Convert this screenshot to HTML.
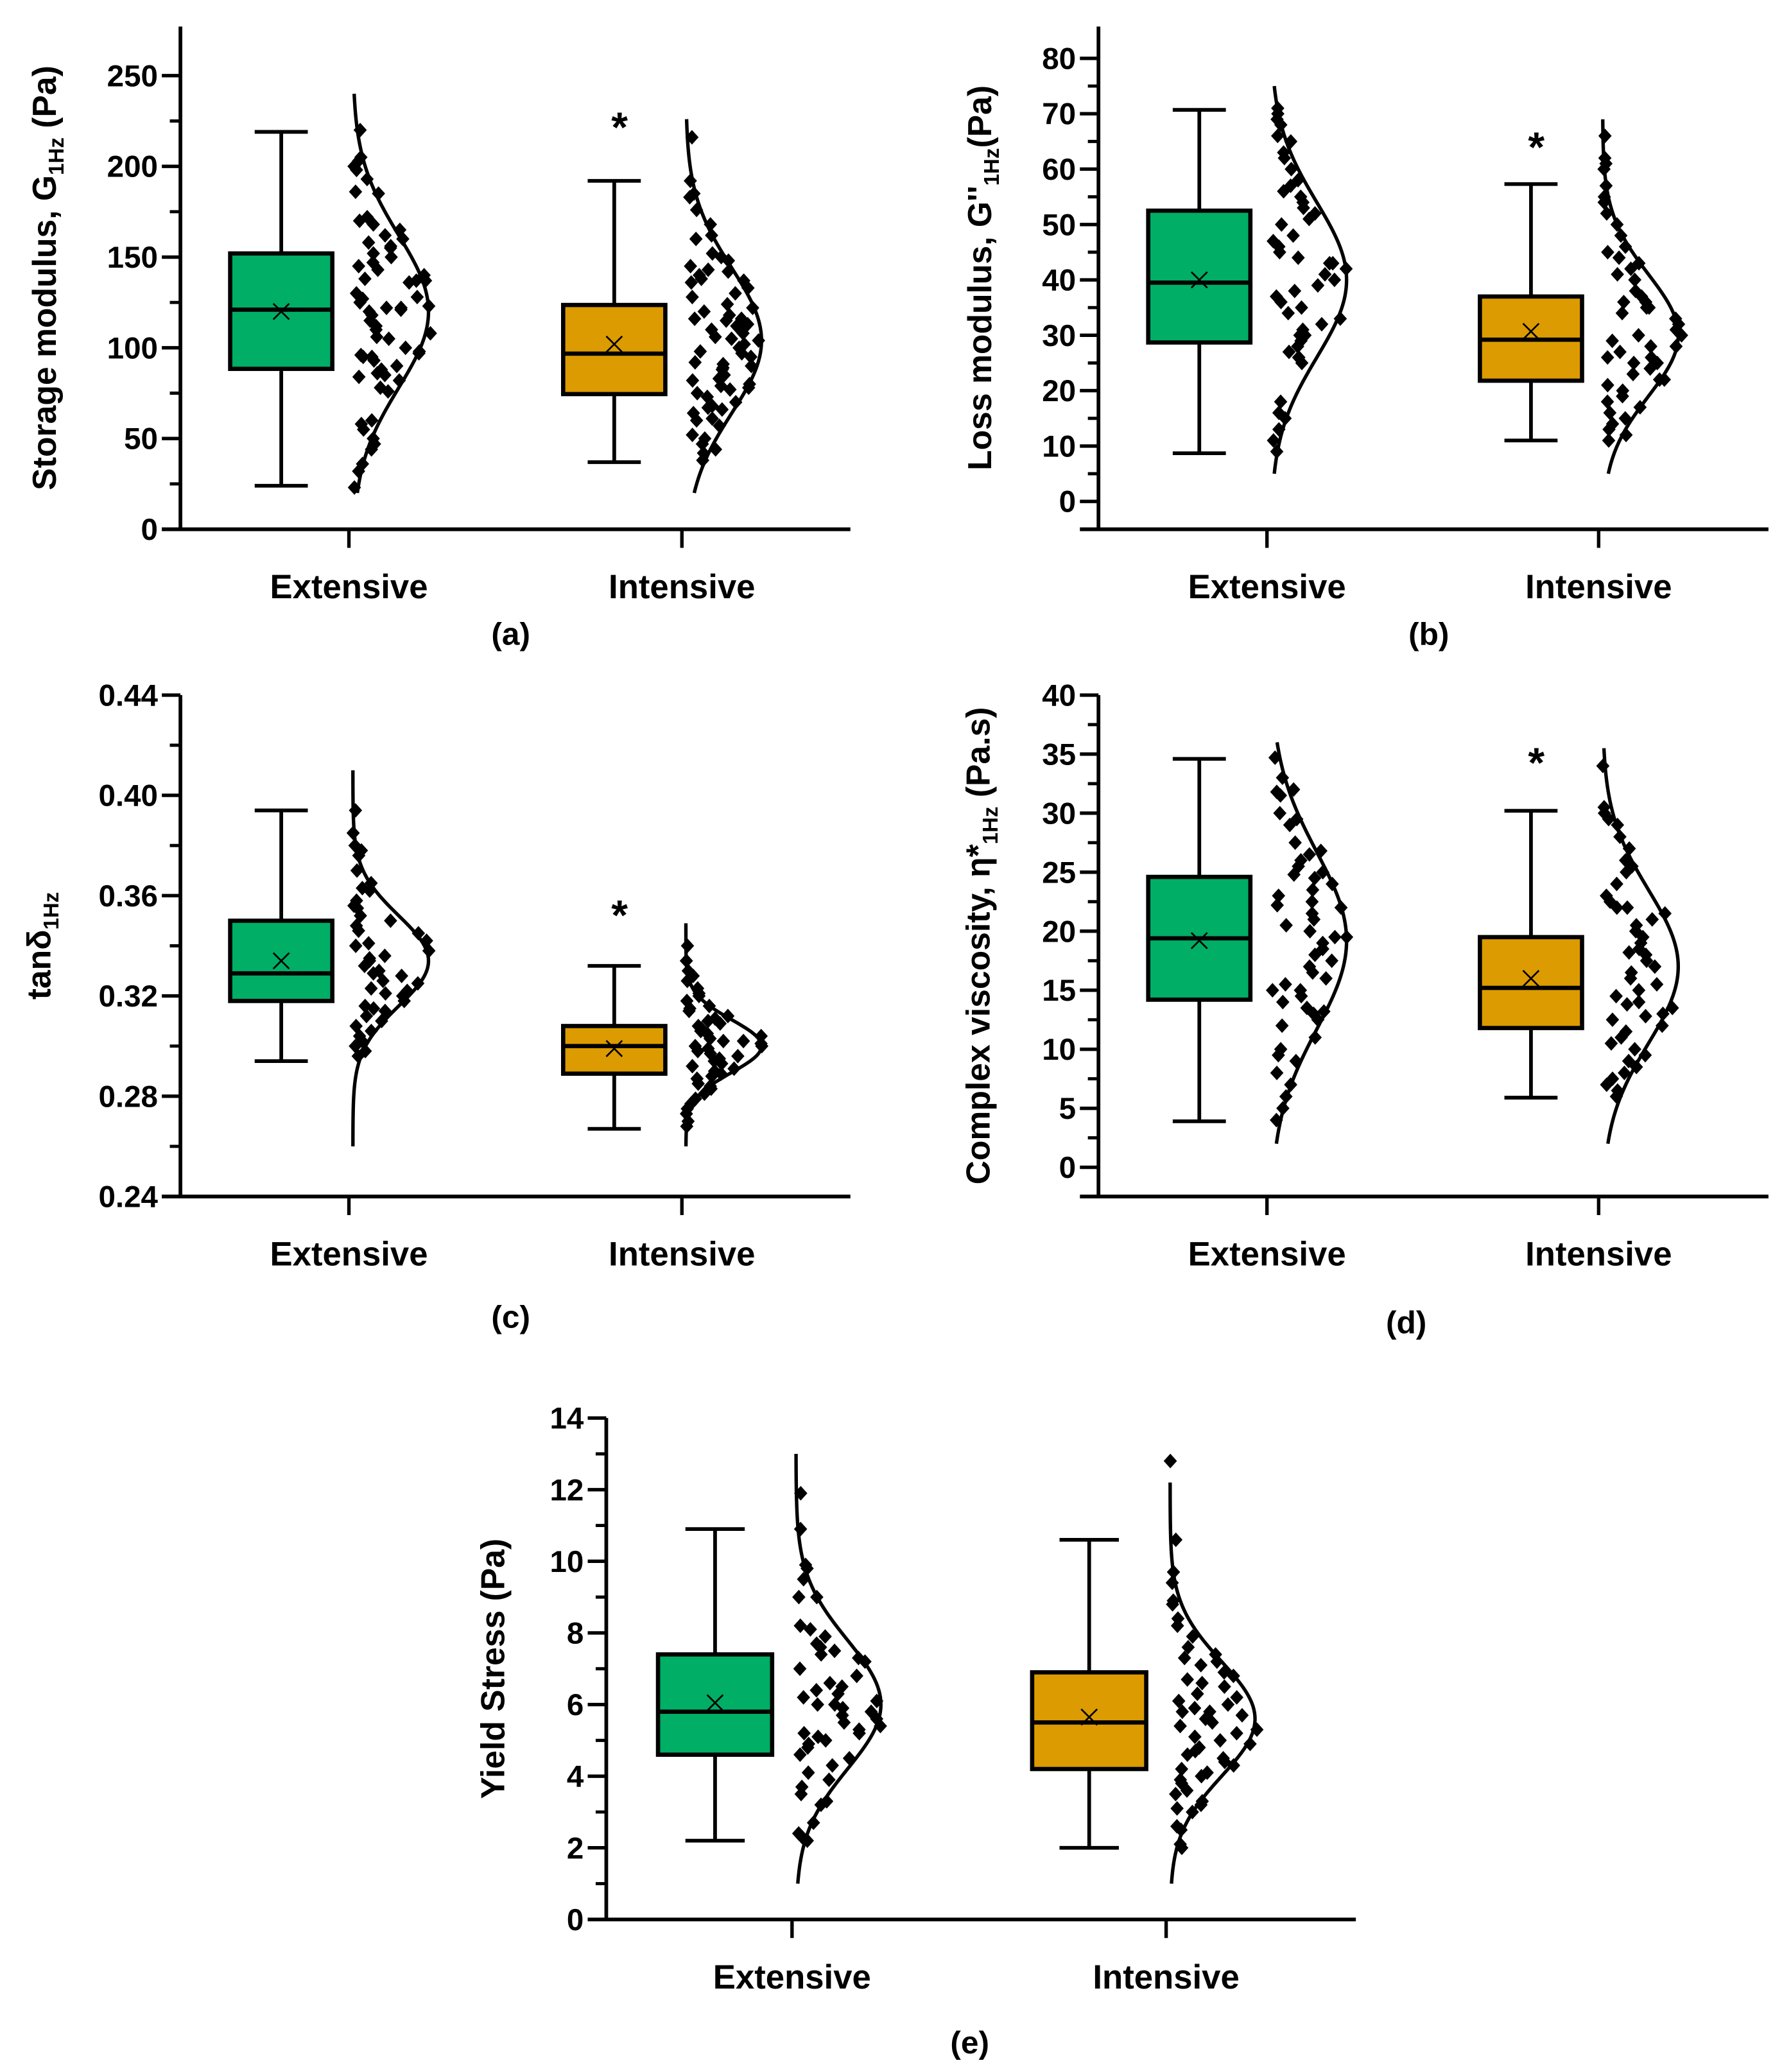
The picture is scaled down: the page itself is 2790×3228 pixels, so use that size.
<!DOCTYPE html>
<html><head><meta charset="utf-8"><style>
html,body{margin:0;padding:0;background:#fff;}
svg{display:block;}
text{font-family:"Liberation Sans",sans-serif;font-weight:bold;fill:#000;}
</style></head>
<body>
<svg id="fig" width="2790" height="3228" viewBox="0 0 1350 1562" preserveAspectRatio="none" xmlns="http://www.w3.org/2000/svg"></svg>
<script>
// ---- data ----
const categories = ["Extensive", "Intensive"];
// panel (a) storage modulus
const aExtPoints = [220,205,203,200,198,193,186,185,172,170,168,165,162,160,158,156,155,152,150,147,145,143,140,138,137,137,136,130,128,127,125,123,122,122,121,120,118,115,112,110,108,106,105,100,98,97,96,95,95,93,90,88,86,85,84,82,78,76,60,58,55,50,47,44,36,32,23];
const aIntPoints = [216,192,185,183,176,168,162,160,152,150,148,145,143,142,140,138,137,136,133,130,128,124,122,120,118,116,116,115,113,112,110,108,106,105,104,102,100,98,97,95,92,91,90,89,88,85,83,82,80,79,78,77,75,73,70,68,67,66,64,61,60,57,52,50,47,44,42,38];
const aBoxStats = [[24,88.4,121,152,219,120],[37,74.5,96.8,123.6,192,102]]; // min,q1,median,q3,max,mean
const aCurve = [[120,42,20,240],[104,40,20,226]]; // mu,sigma,lo,hi
const aTicks = [0,50,100,150,200,250];
// panel (b) loss modulus
const bExtPoints = [71,70,69,68,66,65,63,62,60,58,57,56,55,54,53,52,51,50,48,47,46,45,44,43,43,42,41,40,39,38,37,36,35,34,33,32,31,30,30,29,28,27,26,26,25,18,16,15,13,11,9];
const bIntPoints = [66,62,61,60,57,55,54,52,50,48,46,45,44,43,42,41,40,38,37,36,36,35,35,34,33,32,31,30,30,29,28,28,27,26,26,25,25,24,23,22,22,21,20,19,18,17,16,15,14,13,12,11];
const bBoxStats = [[8.7,28.7,39.5,52.5,70.7,40],[11,21.8,29.2,37,57.3,30.7]];
const bCurve = [[40,14,5,75],[30,11,5,69]];
const bTicks = [0,10,20,30,40,50,60,70,80];
// panel (c) tan delta
const cExtPoints = [0.394,0.385,0.380,0.378,0.376,0.370,0.365,0.363,0.362,0.358,0.356,0.355,0.352,0.350,0.348,0.346,0.345,0.342,0.341,0.340,0.338,0.336,0.335,0.334,0.332,0.330,0.329,0.328,0.326,0.325,0.323,0.322,0.321,0.320,0.318,0.316,0.315,0.314,0.312,0.310,0.308,0.306,0.304,0.302,0.300,0.298,0.296];
const cIntPoints = [0.340,0.334,0.330,0.328,0.326,0.323,0.321,0.320,0.318,0.316,0.315,0.314,0.312,0.311,0.310,0.309,0.308,0.307,0.306,0.305,0.305,0.304,0.303,0.302,0.302,0.301,0.300,0.300,0.299,0.298,0.297,0.296,0.295,0.294,0.293,0.292,0.291,0.290,0.289,0.288,0.287,0.285,0.284,0.283,0.281,0.279,0.277,0.275,0.273,0.270,0.268];
const cBoxStats = [[0.294,0.318,0.329,0.350,0.394,0.334],[0.267,0.289,0.300,0.308,0.332,0.299]];
const cCurve = [[0.334,0.018,0.26,0.41],[0.300,0.0105,0.26,0.349]];
const cTicks = [0.24,0.28,0.32,0.36,0.40,0.44];
// panel (d) complex viscosity
const dExtPoints = [34.7,33,32,31.8,31.5,30,29.5,29,27.5,26.8,26.5,26,25.5,25,24.8,24.5,24,23.5,23,22.5,22.2,22,21.5,21,20.5,20,19.5,19.5,19,18.5,18,17.5,17,16.5,16,15.5,15,15,14.5,14,13.5,13.2,13,12.5,12,11,10,9.5,9,8,7,6,5,4];
const dIntPoints = [34,30.5,30,29.5,29,28,27,26,25.5,25,24,23,22.5,22,22,21.5,21,20.5,20,19.5,19,18.5,18.2,18,17.5,17,16.5,16,15.5,15,14.5,14,13.8,13.5,13,12.8,12.5,12,11.5,11,10.5,10,9.5,9,8.5,8,7.5,7,6.5,6];
const dBoxStats = [[3.9,14.2,19.4,24.6,34.6,19.2],[5.9,11.8,15.2,19.5,30.2,16.0]];
const dCurve = [[19.2,7.5,2,36],[17,6.5,2,35.5]];
const dTicks = [0,5,10,15,20,25,30,35,40];
// panel (e) yield stress
const eExtPoints = [11.9,10.9,9.9,9.8,9.5,9.0,9.0,8.2,8.1,7.9,7.7,7.6,7.5,7.4,7.3,7.2,7.0,6.8,6.6,6.5,6.4,6.3,6.2,6.1,6.0,6.0,5.9,5.8,5.7,5.6,5.5,5.4,5.3,5.2,5.2,5.1,5.0,4.9,4.8,4.6,4.5,4.3,4.1,3.9,3.7,3.5,3.3,3.2,2.7,2.4,2.3,2.2];
const eIntPoints = [12.8,10.6,9.7,9.4,8.9,8.8,8.4,8.2,7.9,7.6,7.4,7.3,7.2,7.1,6.9,6.8,6.7,6.6,6.5,6.3,6.2,6.1,6.0,5.9,5.8,5.8,5.7,5.6,5.5,5.4,5.3,5.2,5.1,5.0,4.9,4.8,4.7,4.6,4.5,4.4,4.3,4.2,4.1,4.0,3.9,3.8,3.6,3.5,3.3,3.2,3.1,3.0,2.6,2.5,2.1,2.0];
const eBoxStats = [[2.2,4.6,5.8,7.4,10.9,6.05],[2.0,4.2,5.5,6.9,10.6,5.65]];
const eCurve = [[6.0,1.8,1,13],[5.6,1.6,1,12.2]];
const eTicks = [0,2,4,6,8,10,12,14];

const NS = "http://www.w3.org/2000/svg";
const svg = document.getElementById('fig');
const colors = ["#00AE66", "#DC9B00"];
function mk(tag, attrs, parent){const e=document.createElementNS(NS,tag);for(const k in attrs)e.setAttribute(k,attrs[k]);(parent||svg).appendChild(e);return e;}
function hash(i){const s=Math.sin(i*12.9898+78.233)*43758.5453;return s-Math.floor(s);}

function panel(cfg){
  const g = mk('g',{});
  
  
  const {ax,y0,y1,vmin,vmax,xl,xr,top} = cfg;
  const Y = v => y0 + (v - vmin) / (vmax - vmin) * (y1 - y0);
  const ya = mk('line',{x1:ax,y1:top,x2:ax,y2:cfg.xaxisY,stroke:'#000','stroke-width':2.8},g);
   
  const xa = mk('line',{x1:xl,y1:cfg.xaxisY,x2:xr,y2:cfg.xaxisY,stroke:'#000','stroke-width':2.8},g);
   
  const ticks = cfg.ticks;
  ticks.forEach((t,i)=>{
    const y = Y(t);
    const tl = mk('line',{x1:ax-14,y1:y,x2:ax,y2:y,stroke:'#000','stroke-width':2.6},g);
     
    const lab = mk('text',{x:ax-17,y:y+8,'text-anchor':'end','font-size':23},g);
    lab.textContent = cfg.fmt ? cfg.fmt(t) : String(t);
     
    if(i<ticks.length-1){
      const ym = Y((t+ticks[i+1])/2);
      const mt = mk('line',{x1:ax-8,y1:ym,x2:ax,y2:ym,stroke:'#000','stroke-width':2.4},g);
       
    }
  });
  const tt = mk('text',{transform:`translate(${cfg.titleX},${(top+cfg.xaxisY)/2}) rotate(-90)`,'text-anchor':'middle','font-size':25},g);
  tt.innerHTML = cfg.title;
   
  categories.forEach((c,ci)=>{
    const cx = cfg.catX[ci];
    const ct = mk('line',{x1:cx,y1:cfg.xaxisY,x2:cx,y2:cfg.xaxisY+14,stroke:'#000','stroke-width':2.6},g);
     
    const cl = mk('text',{x:cx,y:cfg.xaxisY+52,'text-anchor':'middle','font-size':25.5},g);
    cl.textContent = c;
     
    const st = cfg.box[ci];
    const bx = cx + cfg.boxOff, bw = cfg.boxW;
    const wl = mk('line',{x1:bx,y1:Y(st[0]),x2:bx,y2:Y(st[4]),stroke:'#000','stroke-width':2.8},g);
     
    [st[0],st[4]].forEach(v=>{
      const cap = mk('line',{x1:bx-bw*0.26,y1:Y(v),x2:bx+bw*0.26,y2:Y(v),stroke:'#000','stroke-width':2.8},g);
       
    });
    const r = mk('rect',{x:bx-bw/2,y:Y(st[3]),width:bw,height:Y(st[1])-Y(st[3]),fill:colors[ci],stroke:'#000','stroke-width':3.2},g);
     
    const md = mk('line',{x1:bx-bw/2,y1:Y(st[2]),x2:bx+bw/2,y2:Y(st[2]),stroke:'#000','stroke-width':3.2},g);
     
    const my = Y(st[5]);
    const mm = mk('path',{d:`M${bx-6} ${my-6}L${bx+6} ${my+6}M${bx+6} ${my-6}L${bx-6} ${my+6}`,stroke:'#000','stroke-width':1.3,fill:'none'},g);
     
    const cv = cfg.curve[ci];
    const base = cx + 3, amp = cfg.amp;
    const env = v => base + amp*Math.exp(-Math.pow(v-cv[0],2)/(2*cv[1]*cv[1]));
    let d='';
    for(let k=0;k<=120;k++){const v=cv[2]+(cv[3]-cv[2])*k/120;d+=(k?'L':'M')+env(v).toFixed(2)+' '+Y(v).toFixed(2);}
    const cp = mk('path',{d,stroke:'#000','stroke-width':2.6,fill:'none'},g);
     
    const pts = cfg.points[ci];
    pts.forEach((v,i)=>{
      const u = 0.02 + 0.98*hash(i*7+ci*131+cfg.seed);
      const x = base + u*(env(v)-base+4);
      const y = Y(v);
      const p = mk('path',{d:`M${x} ${y-5.5}L${x+5} ${y}L${x} ${y+5.5}L${x-5} ${y}Z`,fill:'#000'},g);
       
    });
    if(cfg.star && ci===1){
      const s = mk('text',{x:bx+4,y:cfg.starY,'text-anchor':'middle','font-size':32},g);
      s.textContent='*';
       
    }
  });
  const pl = mk('text',{x:cfg.capX,y:cfg.capY,'text-anchor':'middle','font-size':24},g);
  pl.textContent = cfg.caption;
   
}

panel({name:'panel-a-storage-modulus',ax:136,top:20,xaxisY:399,xl:122,xr:641,vmin:0,vmax:250,y0:399,y1:57,ticks:aTicks,
  title:'Storage modulus, G<tspan font-size="16" dy="6">1Hz</tspan><tspan dy="-6"> (Pa)</tspan>',titleX:42,
  catX:[263,514],box:aBoxStats,curve:aCurve,points:[aExtPoints,aIntPoints],boxOff:-51,boxW:77,amp:57,star:true,starY:107,caption:'(a)',capX:385,capY:486,seed:1});
panel({name:'panel-b-loss-modulus',ax:828,top:20,xaxisY:399,xl:814,xr:1333,vmin:0,vmax:80,y0:378,y1:44,ticks:bTicks,
  title:'Loss modulus, G\'\'<tspan font-size="16" dy="6">1Hz</tspan><tspan dy="-6">(Pa)</tspan>',titleX:747,
  catX:[955,1205],box:bBoxStats,curve:bCurve,points:[bExtPoints,bIntPoints],boxOff:-51,boxW:77,amp:57,star:true,starY:122,caption:'(b)',capX:1077,capY:486,seed:2});
panel({name:'panel-c-tan-delta',ax:136,top:524,xaxisY:902,xl:122,xr:641,vmin:0.24,vmax:0.44,y0:902,y1:524,ticks:cTicks,fmt:t=>t.toFixed(2),
  title:'tanδ<tspan font-size="16" dy="6">1Hz</tspan>',titleX:38,
  catX:[263,514],box:cBoxStats,curve:cCurve,points:[cExtPoints,cIntPoints],boxOff:-51,boxW:77,amp:57,star:true,starY:701,caption:'(c)',capX:385,capY:1001,seed:3});
panel({name:'panel-d-complex-viscosity',ax:828,top:524,xaxisY:902,xl:814,xr:1333,vmin:0,vmax:40,y0:880,y1:524,ticks:dTicks,
  title:'Complex viscosity, η*<tspan font-size="16" dy="6">1Hz</tspan><tspan dy="-6"> (Pa.s)</tspan>',titleX:746,
  catX:[955,1205],box:dBoxStats,curve:dCurve,points:[dExtPoints,dIntPoints],boxOff:-51,boxW:77,amp:57,star:true,starY:586,caption:'(d)',capX:1060,capY:1005,seed:4});
panel({name:'panel-e-yield-stress',ax:457,top:1069,xaxisY:1447,xl:443,xr:1022,vmin:0,vmax:14,y0:1447,y1:1069,ticks:eTicks,
  title:'Yield Stress (Pa)',titleX:380,
  catX:[597,879],box:eBoxStats,curve:eCurve,points:[eExtPoints,eIntPoints],boxOff:-58,boxW:86,amp:64,star:false,caption:'(e)',capX:731,capY:1548,seed:5});
</script>
</body></html>
